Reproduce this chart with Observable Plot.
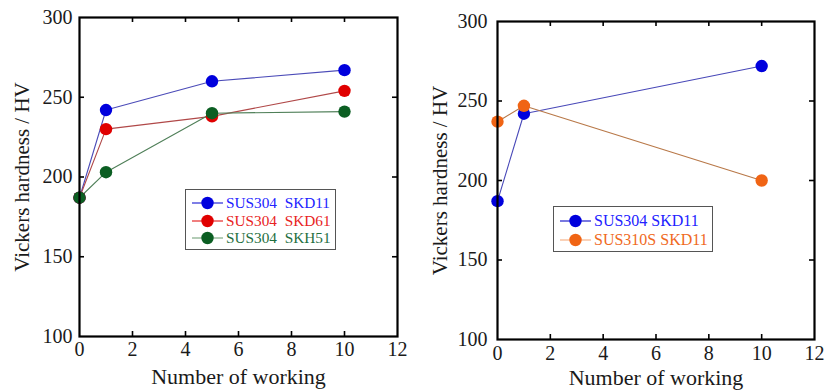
<!DOCTYPE html>
<html><head><meta charset="utf-8">
<script src="https://cdn.jsdelivr.net/npm/d3@7"></script>
<script src="https://cdn.jsdelivr.net/npm/@observablehq/plot@0.6"></script>
<style>
body{margin:0;background:#fff;}
#wrap{position:relative;width:827px;height:391px;overflow:hidden;font-family:"Liberation Serif","Times New Roman",Times,"DejaVu Serif",serif;}
.panel{position:absolute;top:0;}
.panel svg, .panel svg text{font-family:"Liberation Serif","Times New Roman",Times,"DejaVu Serif",serif !important;}
.panel svg [aria-label="x-axis label"] text{font-size:22px;}
.panel svg [aria-label="y-axis label"] text{font-size:21px;}
.legend{position:absolute;border:1px solid #555;background:#fff;box-sizing:border-box;}
.legend .row{position:absolute;left:0;height:16px;white-space:pre;}
.legend svg{position:absolute;left:0;top:0;overflow:visible;}
.legend span{position:absolute;line-height:16px;top:0;font-family:"Liberation Serif","Times New Roman",Times,"DejaVu Serif",serif;}
</style>
</head><body>
<div id="wrap">
  <div id="left" class="panel" style="left:0px"></div>
  <div id="right" class="panel" style="left:415px"></div>
</div>
<script>
// ---- data ----
const xTicks = [0, 2, 4, 6, 8, 10, 12];
const yTicks = [100, 150, 200, 250, 300];

// left panel
const leftCycles = [0, 1, 5, 10];
const leftNames = ["SUS304\u00a0\u00a0SKD11", "SUS304\u00a0\u00a0SKD61", "SUS304\u00a0\u00a0SKH51"];
const hvSKD11 = [187, 242, 260, 267];
const hvSKD61 = [187, 230, 238, 254];
const hvSKH51 = [187, 203, 240, 241];

// right panel
const rightCycles = [0, 1, 10];
const rightNames = ["SUS304 SKD11", "SUS310S SKD11"];
const hv304 = [187, 242, 272];
const hv310S = [237, 247, 200];

// ---- styles ----
const FONT = '"Liberation Serif","Times New Roman",Times,"DejaVu Serif",serif';
const leftDot = ["#0000dd", "#e00000", "#0b5e22"];
const leftLine = ["#4b4bb8", "#b04848", "#4f7f58"];
const leftLegLine = ["#3a3ad8", "#e83a3a", "#8ab08e"];
const leftText = ["#2222ff", "#e82222", "#1f6f3f"];
const rightDot = ["#0000dd", "#f06414"];
const rightLine = ["#4848b8", "#b87848"];
const rightLegLine = ["#3030d0", "#f8b890"];
const rightText = ["#2222ff", "#f06a1e"];

function panel(el, cfg) {
  const {width, height, mt, mb, ml, mr, padY, padX, offX, offY, cycles, series, dotColors, lineColors} = cfg;
  const fh = height - mt - mb, fw = width - ml - mr;
  const innerX = xTicks.slice(1, -1), innerY = yTicks.slice(1, -1);
  const tables = series.map((vals, i) => cycles.map((c, j) => ({x: c, y: vals[j], s: i})));
  const marks = [
    Plot.tickX(innerX, {x: d => d, insetTop: fh - 5, stroke: "#000", strokeWidth: 1.6}),
    Plot.tickX(innerX, {x: d => d, insetBottom: fh - 5, stroke: "#000", strokeWidth: 1.6}),
    Plot.tickY(innerY, {y: d => d, insetRight: fw - 5, stroke: "#000", strokeWidth: 1.6}),
    Plot.tickY(innerY, {y: d => d, insetLeft: fw - 5, stroke: "#000", strokeWidth: 1.6}),
    Plot.axisX(xTicks, {tickSize: 0, tickPadding: padX, fontFamily: FONT, label: "Number of working", labelAnchor: "center", labelArrow: "none", labelOffset: offX}),
    Plot.axisY(yTicks, {tickSize: 0, tickPadding: padY, fontFamily: FONT, label: "Vickers hardness / HV", labelAnchor: "center", labelArrow: "none", labelOffset: offY}),
    ...tables.map((t, i) => Plot.line(t, {x: "x", y: "y", stroke: lineColors[i], strokeWidth: 1.1})),
    ...tables.map((t, i) => Plot.dot(t, {x: "x", y: "y", r: 6.2, fill: dotColors[i], stroke: "none"})),
    Plot.frame({stroke: "#000", strokeWidth: 2.2})
  ];
  const svg = Plot.plot({
    width, height, marginTop: mt, marginBottom: mb, marginLeft: ml, marginRight: mr,
    x: {domain: [0, 12]}, y: {domain: [100, 300]},
    style: {fontFamily: FONT, fontSize: "20px", color: "#1a1a1a", background: "transparent"},
    marks
  });
  el.appendChild(svg);
}

panel(document.getElementById("left"), {
  width: 410, height: 391, mt: 17, mb: 55, ml: 79, mr: 13, padY: 7, padX: 5, offX: 47, offY: 65,
  cycles: leftCycles, series: [hvSKD11, hvSKD61, hvSKH51], dotColors: leftDot, lineColors: leftLine
});
panel(document.getElementById("right"), {
  width: 412, height: 391, mt: 21, mb: 52, ml: 82, mr: 13, padY: 10, padX: 6, offX: 45, offY: 65,
  cycles: rightCycles, series: [hv304, hv310S], dotColors: rightDot, lineColors: rightLine
});

function legend(cfg) {
  const {left, top, width, height, rows, names, lineC, dotC, textC, fontSize} = cfg;
  const box = document.createElement("div");
  box.className = "legend";
  Object.assign(box.style, {left: left + "px", top: top + "px", width: width + "px", height: height + "px"});
  names.forEach((n, i) => {
    const row = document.createElement("div");
    row.className = "row";
    row.style.top = (rows[i] - 8) + "px";
    row.style.width = "100%";
    const s = d3.create("svg").attr("width", 40).attr("height", 16);
    s.append("line").attr("x1", 6).attr("x2", 37).attr("y1", 8).attr("y2", 8).attr("stroke", lineC[i]).attr("stroke-width", 1.3);
    s.append("circle").attr("cx", 21.5).attr("cy", 8).attr("r", 6.2).attr("fill", dotC[i]);
    row.appendChild(s.node());
    const sp = document.createElement("span");
    sp.textContent = n;
    sp.style.left = "40px";
    sp.style.color = textC[i];
    sp.style.fontSize = fontSize + "px";
    row.appendChild(sp);
    box.appendChild(row);
  });
  document.getElementById("wrap").appendChild(box);
}

legend({left: 185, top: 189, width: 151, height: 61, rows: [13, 31, 48], names: leftNames,
  lineC: leftLegLine, dotC: leftDot, textC: leftText, fontSize: 15.3});
legend({left: 553, top: 206, width: 160, height: 46, rows: [14, 33], names: rightNames,
  lineC: rightLegLine, dotC: rightDot, textC: rightText, fontSize: 16});
</script>
</body></html>
